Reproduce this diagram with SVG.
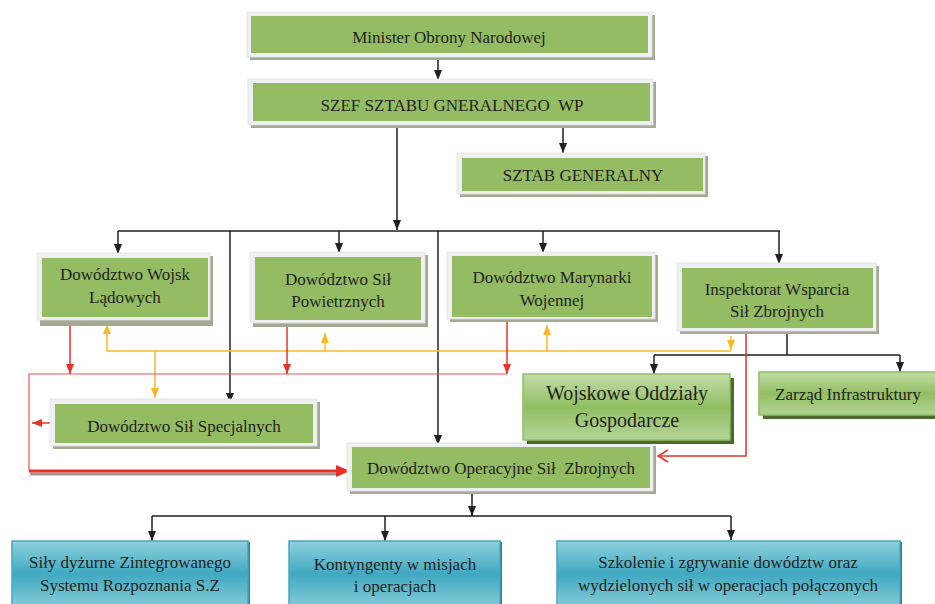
<svg xmlns="http://www.w3.org/2000/svg" width="935" height="604" viewBox="0 0 935 604">
<style>
text{font-family:"Liberation Serif","Times New Roman",serif;font-size:17px;fill:#231f20;text-anchor:middle}
.shd{fill:#a4aa92}
.frm{fill:#eff0f2;stroke:#dfe2e6;stroke-width:0.8}
.grn{fill:#94bc63}
.gshd{fill:#4d6a2c}
.gbox{fill:url(#gg);stroke:#8cc063;stroke-width:1.5}
.tshd{fill:#2f7d8f}
.tbox{fill:url(#tg);stroke:#4aa5bd;stroke-width:1.5}
.k{stroke:#231f20;stroke-width:1.5;fill:none}
.kh{stroke:#231f20;stroke-width:1.5;fill:none;marker-end:url(#ak)}
.r{stroke:#e8312a;stroke-width:1.5;fill:none}
.rh{stroke:#e8312a;stroke-width:1.5;fill:none;marker-end:url(#ar)}
.rl{stroke:#ee5550;stroke-width:1.2;fill:none}
.y{stroke:#fbb726;stroke-width:1.5;fill:none}
.yh{stroke:#fbb726;stroke-width:1.5;fill:none;marker-end:url(#ay)}
</style>
<defs>
<marker id="ak" viewBox="0 0 10 8" refX="10" refY="4" markerWidth="10" markerHeight="8" markerUnits="userSpaceOnUse" orient="auto"><path d="M0,0 L10,4 L0,8 z" fill="#231f20"/></marker>
<marker id="ar" viewBox="0 0 10 8" refX="10" refY="4" markerWidth="10" markerHeight="8" markerUnits="userSpaceOnUse" orient="auto"><path d="M0,0 L10,4 L0,8 z" fill="#e8312a"/></marker>
<marker id="ay" viewBox="0 0 10 8" refX="10" refY="4" markerWidth="10" markerHeight="9" markerUnits="userSpaceOnUse" orient="auto"><path d="M0,0 L10,4 L0,8 z" fill="#fbb726"/></marker>
<marker id="arb" viewBox="0 0 14 12" refX="14" refY="6" markerWidth="14" markerHeight="12" markerUnits="userSpaceOnUse" orient="auto"><path d="M0,0 L14,6 L0,12 z" fill="#e8312a"/></marker>
<linearGradient id="gg" x1="0" y1="0" x2="0" y2="1"><stop offset="0" stop-color="#c2dda9"/><stop offset="0.5" stop-color="#92bf62"/><stop offset="1" stop-color="#b3d497"/></linearGradient>
<linearGradient id="tg" x1="0" y1="0" x2="0" y2="1"><stop offset="0" stop-color="#8ed0dd"/><stop offset="0.5" stop-color="#40a9c1"/><stop offset="1" stop-color="#86cbd9"/></linearGradient>
</defs>

<g id="connectors">
<!-- black -->
<path class="kh" d="M438,60 V80"/>
<path class="kh" d="M397,125 V230"/>
<path class="kh" d="M563,125 V153"/>
<path class="k" d="M118,231 H780"/>
<path class="kh" d="M118,231 V254"/>
<path class="kh" d="M230,231 V403"/>
<path class="kh" d="M339,231 V253"/>
<path class="kh" d="M438,231 V445"/>
<path class="kh" d="M543,231 V253"/>
<path class="kh" d="M779,231 V264"/>
<path class="k" d="M787,331 V355 M654,355 H900"/>
<path class="kh" d="M654,355 V374"/>
<path class="kh" d="M900,355 V372"/>
<path class="kh" d="M472,491 V516"/>
<path class="k" d="M152,516 H731"/>
<path class="kh" d="M152,516 V541"/>
<path class="kh" d="M385,516 V541"/>
<path class="kh" d="M731,516 V540"/>
<!-- yellow -->
<path class="y" d="M107,351 H731"/>
<path class="yh" d="M107,351 V324"/>
<path class="yh" d="M325,351 V333"/>
<path class="yh" d="M547,351 V325"/>
<path class="yh" d="M731,336 V350"/>
<path class="yh" d="M155,351 V398"/>
<!-- red -->
<path class="rl" d="M29,374 H507"/>
<path class="rh" d="M70,320 V374"/>
<path class="rh" d="M287,326 V374"/>
<path class="rh" d="M507,320 V374"/>
<path class="rl" d="M29,374 V471"/>
<path d="M30,474 H340" stroke="#9a9a9a" stroke-width="3" fill="none"/>
<path d="M29,471 H350" stroke="#e8312a" stroke-width="3" fill="none" marker-end="url(#arb)"/>
<path class="rh" d="M55,423 H32"/>
<path class="r" d="M746,331 V456 H658"/>
<path class="r" d="M668,450 L658,456 L668,462"/>
</g>

<g id="minister">
<rect class="shd" x="250" y="15" width="405" height="45"/>
<rect class="frm" x="247" y="12" width="405" height="45"/>
<rect class="grn" x="251" y="16" width="397" height="37"/>
<text x="449" y="43">Minister Obrony Narodowej</text>
</g>
<g id="szef">
<rect class="shd" x="251" y="82" width="405" height="46"/>
<rect class="frm" x="248" y="79" width="405" height="46"/>
<rect class="grn" x="253" y="83" width="397" height="38"/>
<text x="452" y="111" xml:space="preserve">SZEF SZTABU GNERALNEGO  WP</text>
</g>
<g id="sztab">
<rect class="shd" x="460" y="156" width="248" height="41"/>
<rect class="frm" x="457" y="153" width="248" height="41"/>
<rect class="grn" x="462" y="158" width="241" height="33"/>
<text x="583" y="181">SZTAB GENERALNY</text>
</g>
<g id="wojsk">
<rect class="shd" x="40" y="256" width="173" height="70"/>
<rect class="frm" x="37" y="253" width="173" height="67"/>
<rect class="grn" x="42" y="258" width="166" height="59"/>
<text x="125" y="280">Dowództwo Wojsk</text>
<text x="125" y="303">Lądowych</text>
</g>
<g id="powietrzne">
<rect class="shd" x="253" y="255" width="175" height="72"/>
<rect class="frm" x="250" y="252" width="175" height="71"/>
<rect class="grn" x="255" y="257" width="166" height="63"/>
<text x="338" y="285">Dowództwo Sił</text>
<text x="338" y="307">Powietrznych</text>
</g>
<g id="marynarka">
<rect class="shd" x="450" y="255" width="208" height="67"/>
<rect class="frm" x="447" y="252" width="208" height="67"/>
<rect class="grn" x="452" y="256" width="200" height="61"/>
<text x="552" y="283">Dowództwo Marynarki</text>
<text x="552" y="306">Wojennej</text>
</g>
<g id="inspektorat">
<rect class="shd" x="680" y="266" width="199" height="68"/>
<rect class="frm" x="677" y="263" width="199" height="68"/>
<rect class="grn" x="682" y="268" width="191" height="60"/>
<text x="777" y="295">Inspektorat Wsparcia</text>
<text x="777" y="317">Sił Zbrojnych</text>
</g>
<g id="specjalne">
<rect class="shd" x="53" y="402" width="267" height="47"/>
<rect class="frm" x="50" y="399" width="267" height="47"/>
<rect class="grn" x="55" y="404" width="258" height="39"/>
<text x="184" y="432">Dowództwo Sił Specjalnych</text>
</g>
<g id="operacyjne">
<rect class="shd" x="350" y="446" width="306" height="48"/>
<rect class="frm" x="347" y="443" width="306" height="48"/>
<rect class="grn" x="352" y="447" width="298" height="41"/>
<text x="501" y="474" xml:space="preserve">Dowództwo Operacyjne Sił  Zbrojnych</text>
</g>
<g id="wog">
<rect class="gshd" x="527" y="378" width="207" height="66"/>
<rect class="gbox" x="523" y="374" width="207" height="66"/>
<text x="627" y="400" style="font-size:20px">Wojskowe Oddziały</text>
<text x="627" y="427" style="font-size:20px">Gospodarcze</text>
</g>
<g id="zarzad">
<rect class="gshd" x="763" y="376" width="180" height="43"/>
<rect class="gbox" x="759" y="372" width="180" height="43"/>
<text x="848" y="400">Zarząd Infrastruktury</text>
</g>
<g id="sily">
<rect class="tshd" x="14" y="542" width="236" height="70"/>
<rect class="tbox" x="12" y="541" width="236" height="66"/>
<text x="130" y="568">Siły dyżurne Zintegrowanego</text>
<text x="130" y="591">Systemu Rozpoznania S.Z</text>
</g>
<g id="kontyngenty">
<rect class="tshd" x="291" y="542" width="211" height="70"/>
<rect class="tbox" x="289" y="541" width="211" height="66"/>
<text x="395" y="570">Kontyngenty w misjach</text>
<text x="395" y="592">i operacjach</text>
</g>
<g id="szkolenie">
<rect class="tshd" x="559" y="542" width="343" height="70"/>
<rect class="tbox" x="557" y="541" width="343" height="66"/>
<text x="728" y="568">Szkolenie i zgrywanie dowództw oraz</text>
<text x="728" y="591">wydzielonych sił w operacjach połączonych</text>
</g>
</svg>
